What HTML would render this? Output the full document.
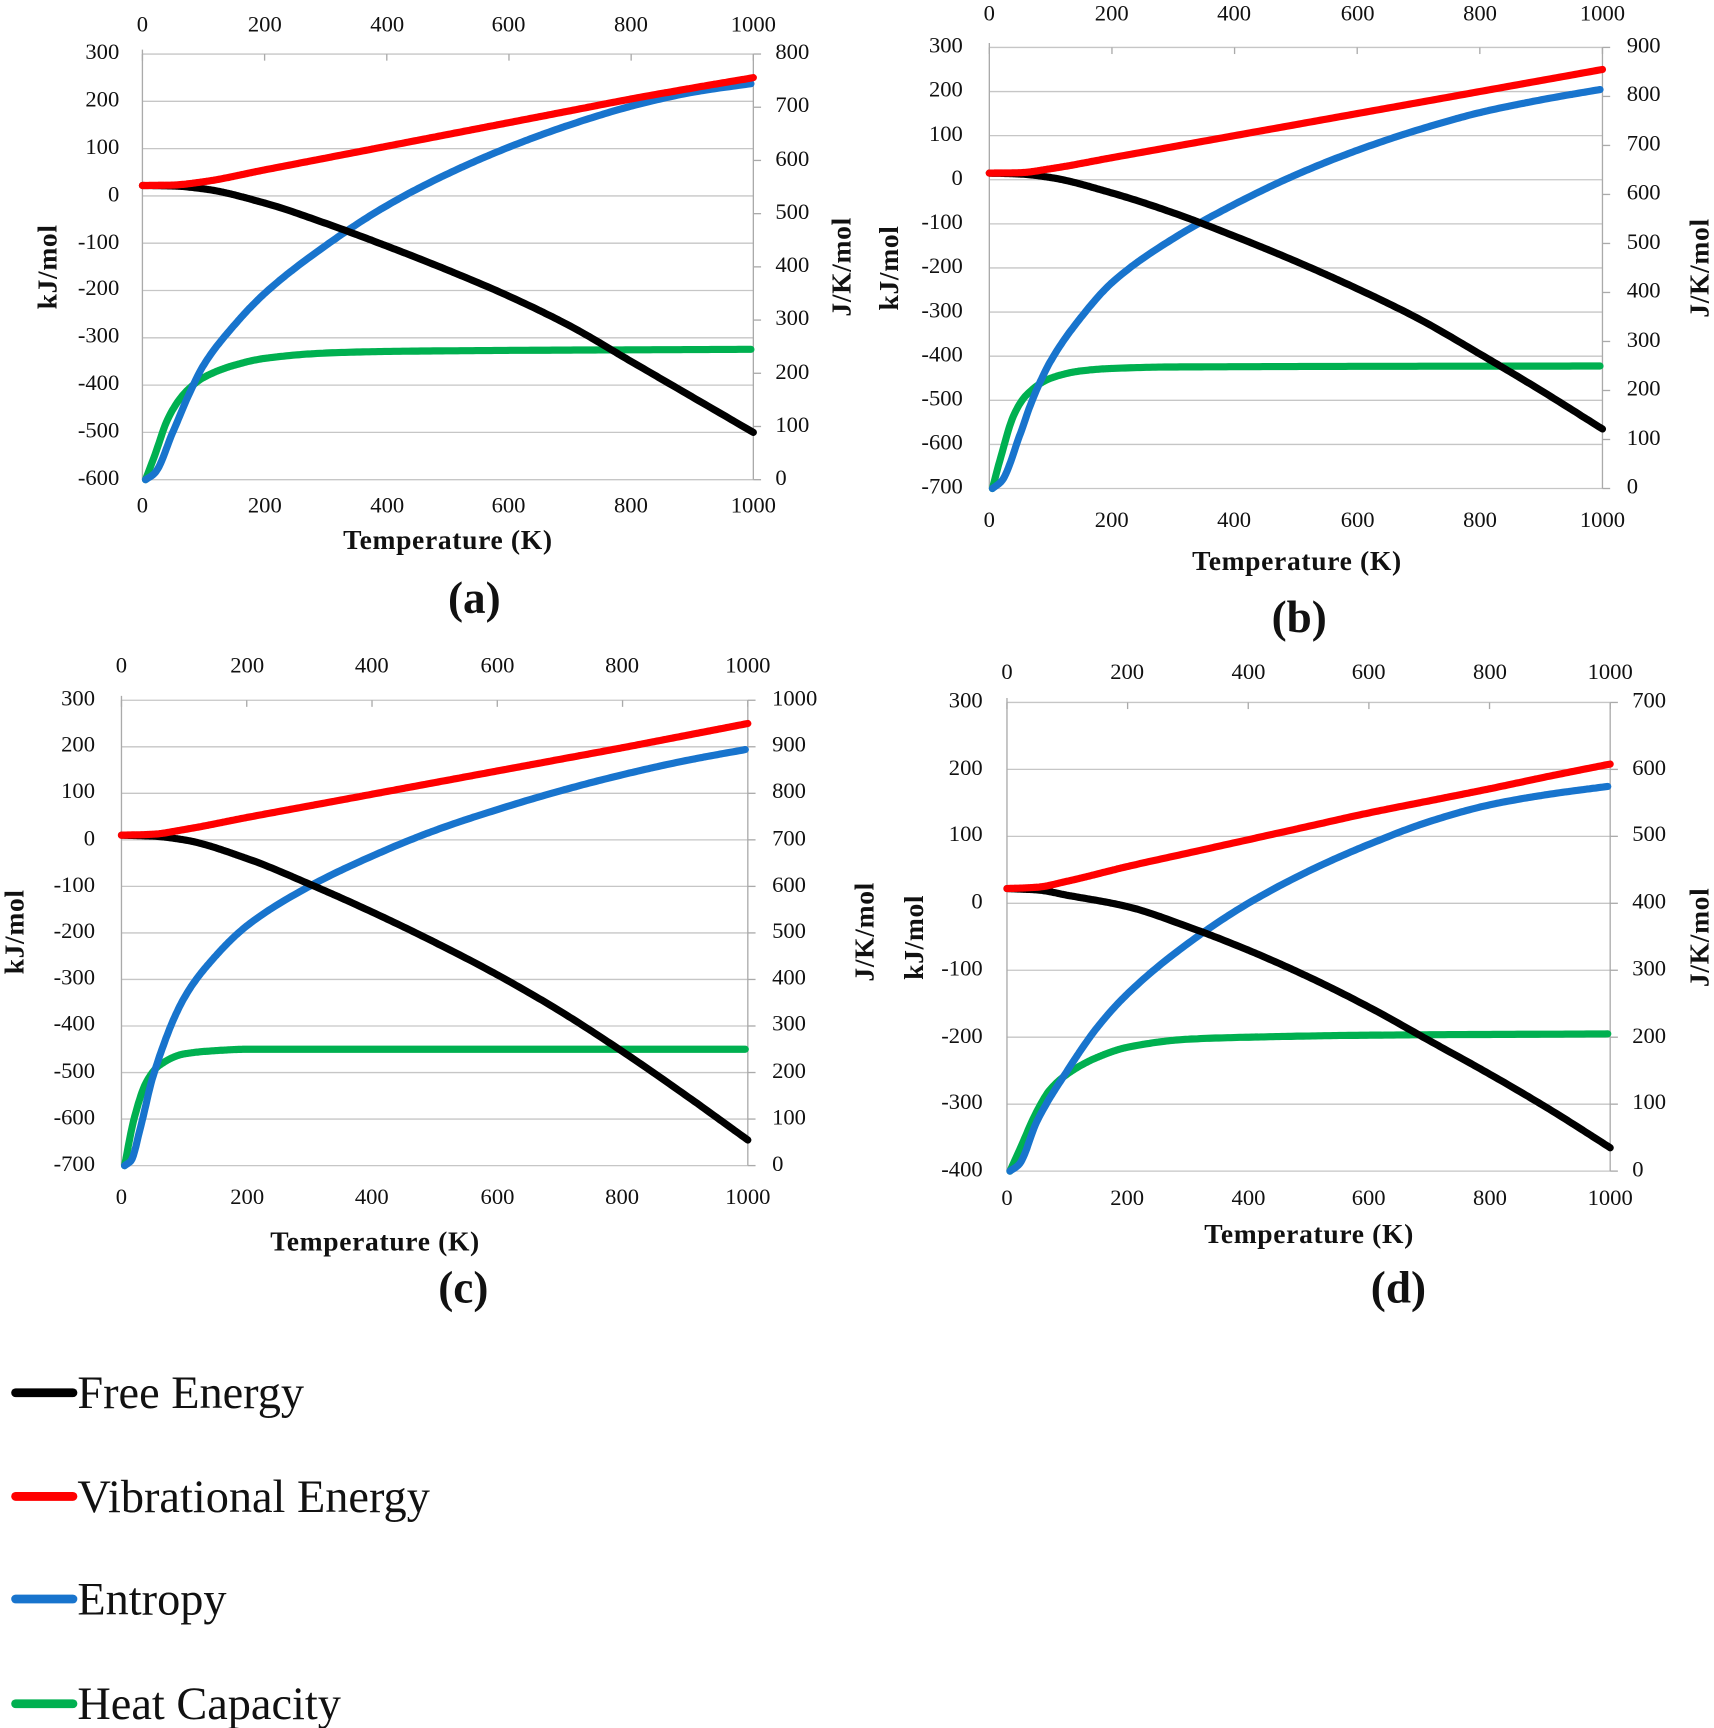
<!DOCTYPE html>
<html><head><meta charset="utf-8"><style>
html,body{margin:0;padding:0;background:#fff;}
svg{display:block;}
text{font-family:"Liberation Serif",serif;fill:#111;}
.t{font-size:20.5px;}
.ax{font-size:25px;font-weight:bold;letter-spacing:0.6px;}
.cap{font-size:41px;font-weight:bold;}
.lg{font-size:42px;}
</style></head><body>
<svg id="s" width="1714" height="1728" viewBox="0 0 1554 1567" xmlns="http://www.w3.org/2000/svg">
<g id="grid"></g>
<g id="curves"></g>

<!-- Panel a -->
<g class="t" text-anchor="end" dominant-baseline="middle">
<text x="108" y="49">300</text><text x="108" y="92">200</text><text x="108" y="135">100</text><text x="108" y="178">0</text><text x="108" y="221">-100</text><text x="108" y="263">-200</text><text x="108" y="306">-300</text><text x="108" y="349">-400</text><text x="108" y="392">-500</text><text x="108" y="435">-600</text>
</g>
<g class="t" text-anchor="start" dominant-baseline="middle">
<text x="703" y="49">800</text><text x="703" y="97">700</text><text x="703" y="146">600</text><text x="703" y="194">500</text><text x="703" y="242">400</text><text x="703" y="290">300</text><text x="703" y="339">200</text><text x="703" y="387">100</text><text x="703" y="435">0</text>
</g>
<g class="t" text-anchor="middle" dominant-baseline="middle">
<text x="129" y="24">0</text><text x="240" y="24">200</text><text x="351" y="24">400</text><text x="461" y="24">600</text><text x="572" y="24">800</text><text x="683" y="24">1000</text>
<text x="129" y="460">0</text><text x="240" y="460">200</text><text x="351" y="460">400</text><text x="461" y="460">600</text><text x="572" y="460">800</text><text x="683" y="460">1000</text>
</g>
<text class="ax" x="406" y="498" text-anchor="middle">Temperature (K)</text>
<text class="cap" x="430" y="556" text-anchor="middle">(a)</text>
<text class="ax" transform="translate(51,242) rotate(-90)" text-anchor="middle">kJ/mol</text>
<text class="ax" transform="translate(771,242) rotate(-90)" text-anchor="middle">J/K/mol</text>

<!-- Panel b -->
<g class="t" text-anchor="end" dominant-baseline="middle">
<text x="873" y="43">300</text><text x="873" y="83">200</text><text x="873" y="123">100</text><text x="873" y="163">0</text><text x="873" y="203">-100</text><text x="873" y="243">-200</text><text x="873" y="283">-300</text><text x="873" y="323">-400</text><text x="873" y="363">-500</text><text x="873" y="403">-600</text><text x="873" y="443">-700</text>
</g>
<g class="t" text-anchor="start" dominant-baseline="middle">
<text x="1475" y="43">900</text><text x="1475" y="87">800</text><text x="1475" y="132">700</text><text x="1475" y="176">600</text><text x="1475" y="221">500</text><text x="1475" y="265">400</text><text x="1475" y="310">300</text><text x="1475" y="354">200</text><text x="1475" y="399">100</text><text x="1475" y="443">0</text>
</g>
<g class="t" text-anchor="middle" dominant-baseline="middle">
<text x="897" y="14">0</text><text x="1008" y="14">200</text><text x="1119" y="14">400</text><text x="1231" y="14">600</text><text x="1342" y="14">800</text><text x="1453" y="14">1000</text>
<text x="897" y="473">0</text><text x="1008" y="473">200</text><text x="1119" y="473">400</text><text x="1231" y="473">600</text><text x="1342" y="473">800</text><text x="1453" y="473">1000</text>
</g>
<text class="ax" x="1176" y="517" text-anchor="middle">Temperature (K)</text>
<text class="cap" x="1178" y="573" text-anchor="middle">(b)</text>
<text class="ax" transform="translate(814,243) rotate(-90)" text-anchor="middle">kJ/mol</text>
<text class="ax" transform="translate(1549,243) rotate(-90)" text-anchor="middle">J/K/mol</text>

<!-- Panel c -->
<g class="t" text-anchor="end" dominant-baseline="middle">
<text x="86" y="635">300</text><text x="86" y="677">200</text><text x="86" y="719">100</text><text x="86" y="762">0</text><text x="86" y="804">-100</text><text x="86" y="846">-200</text><text x="86" y="888">-300</text><text x="86" y="930">-400</text><text x="86" y="973">-500</text><text x="86" y="1015">-600</text><text x="86" y="1057">-700</text>
</g>
<g class="t" text-anchor="start" dominant-baseline="middle">
<text x="700" y="635">1000</text><text x="700" y="677">900</text><text x="700" y="719">800</text><text x="700" y="762">700</text><text x="700" y="804">600</text><text x="700" y="846">500</text><text x="700" y="888">400</text><text x="700" y="930">300</text><text x="700" y="973">200</text><text x="700" y="1015">100</text><text x="700" y="1057">0</text>
</g>
<g class="t" text-anchor="middle" dominant-baseline="middle">
<text x="110" y="605">0</text><text x="224" y="605">200</text><text x="337" y="605">400</text><text x="451" y="605">600</text><text x="564" y="605">800</text><text x="678" y="605">1000</text>
<text x="110" y="1087">0</text><text x="224" y="1087">200</text><text x="337" y="1087">400</text><text x="451" y="1087">600</text><text x="564" y="1087">800</text><text x="678" y="1087">1000</text>
</g>
<text class="ax" x="340" y="1134" text-anchor="middle">Temperature (K)</text>
<text class="cap" x="420" y="1181" text-anchor="middle">(c)</text>
<text class="ax" transform="translate(21,845) rotate(-90)" text-anchor="middle">kJ/mol</text>
<text class="ax" transform="translate(792,845) rotate(-90)" text-anchor="middle">J/K/mol</text>

<!-- Panel d -->
<g class="t" text-anchor="end" dominant-baseline="middle">
<text x="891" y="637">300</text><text x="891" y="698">200</text><text x="891" y="758">100</text><text x="891" y="819">0</text><text x="891" y="880">-100</text><text x="891" y="941">-200</text><text x="891" y="1001">-300</text><text x="891" y="1062">-400</text>
</g>
<g class="t" text-anchor="start" dominant-baseline="middle">
<text x="1480" y="637">700</text><text x="1480" y="698">600</text><text x="1480" y="758">500</text><text x="1480" y="819">400</text><text x="1480" y="880">300</text><text x="1480" y="941">200</text><text x="1480" y="1001">100</text><text x="1480" y="1062">0</text>
</g>
<g class="t" text-anchor="middle" dominant-baseline="middle">
<text x="913" y="611">0</text><text x="1022" y="611">200</text><text x="1132" y="611">400</text><text x="1241" y="611">600</text><text x="1351" y="611">800</text><text x="1460" y="611">1000</text>
<text x="913" y="1088">0</text><text x="1022" y="1088">200</text><text x="1132" y="1088">400</text><text x="1241" y="1088">600</text><text x="1351" y="1088">800</text><text x="1460" y="1088">1000</text>
</g>
<text class="ax" x="1187" y="1127" text-anchor="middle">Temperature (K)</text>
<text class="cap" x="1268" y="1181" text-anchor="middle">(d)</text>
<text class="ax" transform="translate(837,850) rotate(-90)" text-anchor="middle">kJ/mol</text>
<text class="ax" transform="translate(1549,850) rotate(-90)" text-anchor="middle">J/K/mol</text>

<!-- Legend -->
<g stroke-width="8" stroke-linecap="round">
<line x1="14" y1="1263" x2="66" y2="1263" stroke="#000"/>
<line x1="14" y1="1357" x2="66" y2="1357" stroke="#f00"/>
<line x1="14" y1="1450" x2="66" y2="1450" stroke="#1874cd"/>
<line x1="14" y1="1545" x2="66" y2="1545" stroke="#00b050"/>
</g>
<g class="lg">
<text x="70" y="1277">Free Energy</text>
<text x="70" y="1371">Vibrational Energy</text>
<text x="70" y="1464">Entropy</text>
<text x="70" y="1559">Heat Capacity</text>
</g>
</svg>
<script>
var NS="http://www.w3.org/2000/svg";
function el(p,n,a){var e=document.createElementNS(NS,n);for(var k in a)e.setAttribute(k,a[k]);p.appendChild(e);return e;}
var P=[
{L:129,R:683,T:49,B:435,lmin:-600,lmax:300,rmax:800,
 red:[[0,22],[50,23],[100,30],[200,55],[300,80],[400,105],[500,130],[600,155],[700,180],[800,205],[900,228],[1000,250]],
 blk:[[0,22],[50,21],[100,15],[200,-15],[300,-58],[400,-106],[500,-157],[600,-212],[700,-275],[800,-350],[900,-425],[1000,-500]],
 blu:[[5,0],[20,12],[50,90],[80,170],[100,215],[150,290],[200,350],[300,440],[400,515],[500,575],[600,625],[700,667],[800,702],[900,728],[1000,745]],
 grn:[[5,0],[20,45],[40,110],[60,150],[80,175],[100,192],[150,215],[200,228],[300,238],[400,241],[600,243],[1000,245]]},
{L:897,R:1453,T:43,B:443,lmin:-700,lmax:300,rmax:900,
 red:[[0,15],[50,16],[100,25],[200,50],[300,75],[400,100],[500,125],[600,150],[700,175],[800,200],[900,225],[1000,250]],
 blk:[[0,15],[50,13],[100,5],[200,-30],[300,-75],[400,-128],[500,-185],[600,-247],[700,-315],[800,-395],[900,-478],[1000,-565]],
 blu:[[5,0],[20,15],[50,110],[70,180],[100,260],[150,350],[200,420],[300,510],[400,580],[500,640],[600,690],[700,732],[800,767],[900,793],[1000,815]],
 grn:[[5,0],[20,70],[40,150],[60,190],[100,225],[150,240],[200,245],[300,248],[1000,250]]},
{L:110,R:678,T:635,B:1057,lmin:-700,lmax:300,rmax:1000,
 red:[[0,10],[50,12],[100,22],[200,48],[300,73],[400,98],[500,123],[600,148],[700,173],[800,198],[900,224],[1000,250]],
 blk:[[0,10],[50,8],[100,0],[200,-40],[300,-95],[400,-155],[500,-220],[600,-290],[700,-368],[800,-455],[900,-548],[1000,-645]],
 blu:[[5,0],[15,10],[30,80],[50,190],[100,360],[150,450],[200,515],[300,600],[400,665],[500,720],[600,765],[700,805],[800,840],[900,870],[1000,895]],
 grn:[[5,0],[20,100],[40,180],[60,215],[100,240],[150,247],[200,250],[1000,250]]},
{L:913,R:1460,T:637,B:1062,lmin:-400,lmax:300,rmax:700,
 red:[[0,22],[50,24],[100,33],[200,55],[300,75],[400,95],[500,115],[600,135],[700,153],[800,171],[900,190],[1000,208]],
 blk:[[0,22],[50,20],[100,12],[200,-5],[300,-35],[400,-70],[500,-110],[600,-155],[700,-205],[800,-255],[900,-308],[1000,-365]],
 blu:[[5,0],[20,10],[50,75],[100,150],[150,215],[200,265],[300,340],[400,400],[500,448],[600,488],[700,522],[800,547],[900,563],[1000,575]],
 grn:[[5,0],[20,30],[50,90],[70,120],[100,145],[150,170],[200,185],[300,197],[400,200],[600,203],[1000,205]]}
];
// monotone cubic interpolation (Fritsch-Carlson)
function mono(pts){
 var n=pts.length,x=pts.map(function(p){return p[0]}),y=pts.map(function(p){return p[1]});
 var d=[],m=[];
 for(var i=0;i<n-1;i++)d.push((y[i+1]-y[i])/(x[i+1]-x[i]));
 m[0]=d[0];m[n-1]=d[n-2];
 for(var i=1;i<n-1;i++){ if(d[i-1]*d[i]<=0)m[i]=0; else{var w1=2*(x[i+1]-x[i])+(x[i]-x[i-1]),w2=(x[i+1]-x[i])+2*(x[i]-x[i-1]);m[i]=(w1+w2)/(w1/d[i-1]+w2/d[i]);} }
 return function(t){
  var i=0;while(i<n-2&&t>x[i+1])i++;
  var h=x[i+1]-x[i],s=(t-x[i])/h,s2=s*s,s3=s2*s;
  return (2*s3-3*s2+1)*y[i]+(s3-2*s2+s)*h*m[i]+(-2*s3+3*s2)*y[i+1]+(s3-s2)*h*m[i+1];
 };
}
var g=document.getElementById('grid'),c=document.getElementById('curves');
P.forEach(function(p){
 var n=(p.lmax-p.lmin)/100,h=(p.B-p.T);
 for(var i=0;i<=n;i++){var y=p.T+h*i/n;el(g,'line',{x1:p.L,x2:p.R,y1:y,y2:y,stroke:'#c6c6c6','stroke-width':1.2});}
 var m=p.rmax/100;
 for(var i=0;i<=m;i++){var y=p.T+h*i/m;el(g,'line',{x1:p.R,x2:p.R+7,y1:y,y2:y,stroke:'#aaa','stroke-width':1.2});}
 el(g,'line',{x1:p.L,x2:p.L,y1:p.T-4,y2:p.B,stroke:'#aaa','stroke-width':1.2});
 el(g,'line',{x1:p.R,x2:p.R,y1:p.T,y2:p.B,stroke:'#aaa','stroke-width':1.2});
 for(var i=0;i<=5;i++){var x=p.L+(p.R-p.L)*i/5;el(g,'line',{x1:x,x2:x,y1:p.T,y2:p.T+6,stroke:'#aaa','stroke-width':1.2});}
 function X(t){return p.L+(p.R-p.L)*t/1000;}
 function YL(v){return p.B-h*(v-p.lmin)/(p.lmax-p.lmin);}
 function YR(v){return p.B-h*v/p.rmax;}
 var S=[['grn',YR,'#00b050'],['blu',YR,'#1874cd'],['blk',YL,'#000'],['red',YL,'#f00']];
 S.forEach(function(s){
  var pts=p[s[0]],f=mono(pts),t0=pts[0][0],d="";
  for(var t=t0;t<=1000.01;t+=(t<200?2:5)){d+=(d?"L":"M")+X(t).toFixed(1)+","+s[1](f(t)).toFixed(1);}
  el(c,'path',{d:d,fill:'none',stroke:s[2],'stroke-width':6.5,'stroke-linecap':'round','stroke-linejoin':'round'});
 });
});
</script>
</body></html>
